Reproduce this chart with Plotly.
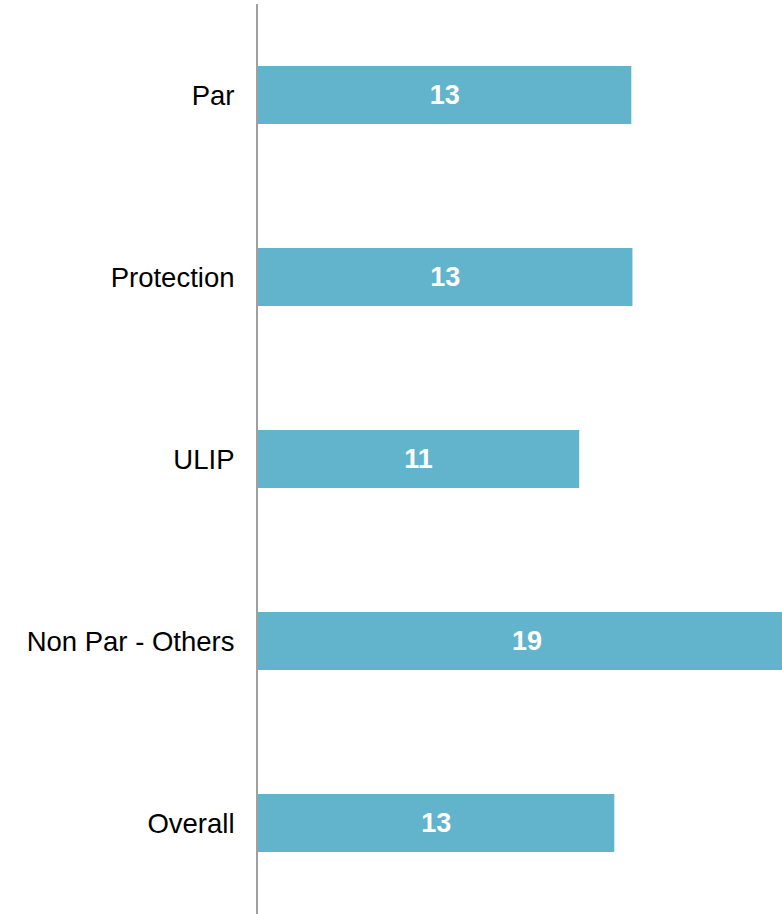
import plotly.graph_objects as go

# values (labels show rounded numbers)
categories = ['Par', 'Protection', 'ULIP', 'Non Par - Others', 'Overall']
values = [13.18, 13.22, 11.34, 19.0, 12.58]
labels = ['13', '13', '11', '19', '13']

BAR_COLOR = '#62B4CD'
FONT = 'Liberation Sans'

fig = go.Figure()

fig.add_trace(
    go.Bar(
        y=categories,
        x=values,
        orientation='h',
        text=labels,
        textposition='inside',
        insidetextanchor='middle',
        textangle=0,
        textfont=dict(family=FONT, size=27, color='white', weight='bold'),
        marker=dict(color=BAR_COLOR, line=dict(width=0)),
        hoverinfo='skip',
    )
)

fig.update_layout(
    width=782,
    height=914,
    paper_bgcolor='white',
    plot_bgcolor='white',
    margin=dict(l=258, r=0, t=4, b=0),
    bargap=0.68,
    showlegend=False,
    uniformtext=dict(minsize=27, mode='show'),
)

fig.update_xaxes(
    visible=False,
    range=[0, 18.5],
    fixedrange=True,
)

fig.update_yaxes(
    autorange='reversed',
    showline=True,
    linecolor='#a0a0a0',
    linewidth=2,
    showgrid=False,
    ticks='',
    ticklabelstandoff=16,
    tickfont=dict(family=FONT, size=27.5, color='black'),
    fixedrange=True,
)

# drop the page's default body margin so the figure sits at the top-left corner
fig.write_html(
    "out.html",
    config={'displayModeBar': False},
    post_script="document.body.style.margin='0';",
)
